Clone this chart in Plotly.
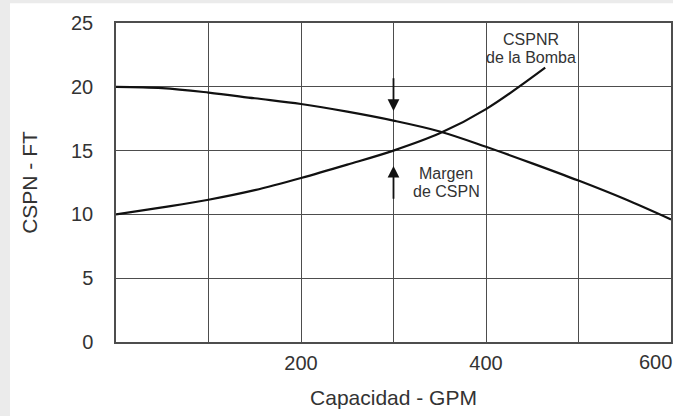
import plotly.graph_objects as go

# Data
x_disp = [0, 50, 100, 150, 200, 250, 300, 350, 400, 450, 500, 550, 600]
cspn_disp = [20.0, 19.9, 19.55, 19.1, 18.65, 18.05, 17.35, 16.5, 15.3, 14.0, 12.65, 11.2, 9.6]

x_req = [0, 50, 100, 150, 200, 250, 300, 350, 400, 464]
cspn_req = [10.0, 10.55, 11.15, 11.9, 12.85, 13.9, 15.0, 16.35, 18.25, 21.5]

x_ticks = [100, 200, 300, 400, 500, 600]
x_ticktext = ["", "200", "", "400", "", ""]
x_last_label = "600"
y_ticks = [0, 5, 10, 15, 20, 25]

label_req_lines = ["CSPNR", "de la Bomba"]
label_req_pos = [(449, 23.71), (449, 22.28)]
label_margin_lines = ["Margen", "de CSPN"]
label_margin_pos = [(357, 13.24), (357, 11.83)]
arrow_x = 300
arrow_down = (20.78, 18.1)
arrow_up = (11.1, 13.8)

FONT = "Arial, Liberation Sans, sans-serif"
TXT = "#333333"
GRID = "#4d4d4d"
FRAME = "#ebebeb"

fig = go.Figure()
fig.add_trace(go.Scatter(x=x_disp, y=cspn_disp, mode="lines", line=dict(color="#111111", width=2.2, shape="spline"),
                         name="CSPN disponible", showlegend=False, hoverinfo="skip"))
fig.add_trace(go.Scatter(x=x_req, y=cspn_req, mode="lines", line=dict(color="#111111", width=2.2, shape="spline"),
                         name="CSPNR de la Bomba", showlegend=False, hoverinfo="skip"))

# arrows
fig.add_annotation(x=arrow_x, y=arrow_down[1], ax=arrow_x, ay=arrow_down[0], xref="x", yref="y", axref="x", ayref="y",
                   showarrow=True, arrowhead=2, arrowsize=1.3, arrowwidth=1.8, arrowcolor="#111111", text="")
fig.add_annotation(x=arrow_x, y=arrow_up[1], ax=arrow_x, ay=arrow_up[0], xref="x", yref="y", axref="x", ayref="y",
                   showarrow=True, arrowhead=2, arrowsize=1.3, arrowwidth=1.8, arrowcolor="#111111", text="")

for txt, (lx, ly) in zip(label_req_lines + label_margin_lines, label_req_pos + label_margin_pos):
    fig.add_annotation(x=lx, y=ly, xref="x", yref="y", text=txt, showarrow=False,
                       font=dict(family=FONT, size=16, color=TXT), align="center")

# last x tick label, nudged left as in the reference
fig.add_annotation(x=x_ticks[-1], y=0, xref="x", yref="y", text=x_last_label, showarrow=False,
                   xshift=-16, yshift=-20, font=dict(family=FONT, size=20, color=TXT))

# page frame (grey strips at left and top)
fig.add_shape(type="rect", xref="paper", yref="paper", x0=-0.3, x1=-0.191, y0=-0.3, y1=1.2,
              fillcolor=FRAME, line=dict(width=0), layer="below")
fig.add_shape(type="rect", xref="paper", yref="paper", x0=-0.3, x1=1.1, y0=1.062, y1=1.2,
              fillcolor=FRAME, line=dict(width=0), layer="below")

fig.update_layout(
    width=673, height=416,
    margin=dict(l=116, r=2, t=23, b=74, autoexpand=False),
    paper_bgcolor="white", plot_bgcolor="white",
    font=dict(family=FONT, color=TXT),
    xaxis=dict(range=[0, 600], tickvals=x_ticks, ticktext=x_ticktext, showgrid=True, gridcolor=GRID, gridwidth=1.2,
               showline=True, linecolor=GRID, linewidth=1.5, mirror=True, zeroline=False, ticks="",
               tickfont=dict(size=20, color=TXT), ticklabelstandoff=2, ticklabeloverflow="allow", automargin=False,
               title=dict(text="Capacidad - GPM", font=dict(size=21, color=TXT), standoff=18)),
    yaxis=dict(range=[0, 25], tickvals=y_ticks, showgrid=True, gridcolor=GRID, gridwidth=1.2,
               showline=True, linecolor=GRID, linewidth=1.5, mirror=True, zeroline=False, ticks="",
               tickfont=dict(size=20, color=TXT), ticklabelstandoff=17, automargin=False,
               title=dict(text="CSPN - FT", font=dict(size=21, color=TXT), standoff=28)),
)

fig.write_html("out.html", config={"displayModeBar": False},
               post_script="document.body.style.margin='0';document.body.style.overflow='hidden';")
